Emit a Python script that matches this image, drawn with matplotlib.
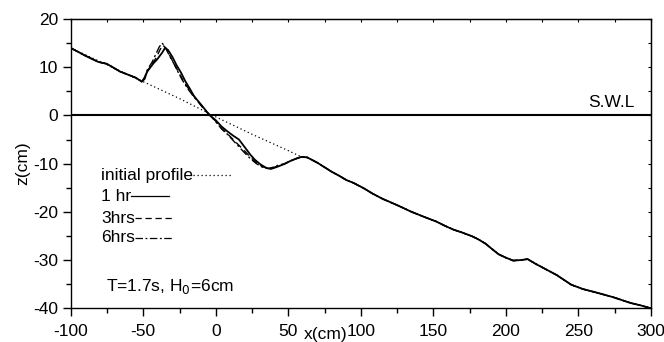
import numpy as np
import matplotlib
matplotlib.use("Agg")
import matplotlib.pyplot as plt
from matplotlib.ticker import MultipleLocator

plt.rcParams['font.family'] = ['Liberation Sans', 'DejaVu Sans']
plt.rcParams['axes.unicode_minus'] = False

FS = 12.5

# Initial (pre-test) beach profile, 1:7 slope in the surf zone
x_init = [-100, -75, -50, -25, 0, 25, 50, 59]
z_init = [14.0, 10.5, 7.0, 3.5, -0.3, -3.9, -7.3, -8.6]

# Landward part shared by all measured profiles
x_head = [-100, -90, -81, -75, -66, -60, -55, -51]
z_head = [14.0, 12.4, 11.1, 10.7, 9.1, 8.4, 7.8, 7.0]

# Seaward part shared by all measured profiles (unchanged region)
x_tail = [47, 51, 55, 59, 63, 70, 80, 85, 90, 95, 102, 108, 115, 125, 135,
          145, 152, 158, 164, 170, 177, 181, 186, 190, 195, 200, 205, 210,
          215, 220, 225, 230, 235, 240, 245, 253, 262, 274, 286, 293, 300]
z_tail = [-10.1, -9.5, -9.0, -8.6, -8.7, -9.8, -11.7, -12.5, -13.4, -14.0,
          -15.1, -16.2, -17.3, -18.6, -20.0, -21.2, -22.0, -22.9, -23.7,
          -24.3, -25.1, -25.7, -26.6, -27.6, -28.8, -29.5, -30.1, -30.0,
          -29.8, -30.7, -31.5, -32.3, -33.1, -34.1, -35.1, -36.0, -36.7,
          -37.7, -38.9, -39.4, -40.0]

# Bar region after 1 hr
x_1hr = [-49, -47.5, -43, -40.5, -37, -35, -33, -30, -27, -24, -21, -18, -15,
         -10, -6, -4, 0, 4, 8, 12, 16, 20, 24, 27, 31, 35, 38, 42]
z_1hr = [7.6, 9.0, 10.8, 11.6, 13.0, 14.0, 13.6, 12.2, 10.4, 8.9, 7.1, 5.6,
         4.0, 2.2, 0.7, 0.0, -1.0, -2.3, -3.3, -4.2, -5.0, -6.6, -8.2, -9.2,
         -10.2, -10.9, -11.1, -10.7]

# Bar region after 3 hrs
x_3hrs = [-49, -47, -44, -41, -38.5, -36.5, -34, -31, -28, -25, -22, -18, -14,
          -10, -6, -3, 0, 4, 8, 12, 16, 20, 24, 28, 32, 36, 40, 44]
z_3hrs = [7.8, 9.3, 10.6, 12.0, 13.6, 14.6, 13.8, 12.0, 10.3, 8.6, 7.0, 5.2,
          3.6, 2.0, 0.6, -0.3, -1.2, -2.7, -3.8, -5.0, -6.2, -7.4, -8.7,
          -9.8, -10.6, -11.0, -10.8, -10.3]

# Bar region after 6 hrs
x_6hrs = [-49, -47, -44, -41.5, -39, -37, -35, -32, -29, -26, -23, -19, -15,
          -10, -6, -3, 0, 4, 8, 12, 16, 20, 24, 28, 32, 36, 40, 44]
z_6hrs = [8.0, 9.6, 11.0, 12.6, 14.2, 15.0, 14.3, 12.4, 10.8, 9.0, 7.3, 5.4,
          3.8, 2.1, 0.6, -0.3, -1.3, -2.8, -3.9, -5.2, -6.5, -7.8, -9.0,
          -10.0, -10.7, -11.0, -10.7, -10.2]

legend_labels = ["initial profile", "1 hr", "3hrs", "6hrs"]


def full(xm, zm):
    return (np.concatenate([x_head, xm, x_tail]),
            np.concatenate([z_head, zm, z_tail]))


fig = plt.figure(figsize=(6.64, 3.42), dpi=100)
ax = fig.add_axes([0.1065, 0.0985, 0.8739, 0.8459])

ax.axhline(0, color='black', lw=1.5, zorder=1)

xi = np.concatenate([x_init, x_tail[4:]])
zi = np.concatenate([z_init, z_tail[4:]])
ax.plot(xi, zi, color='black', lw=0.9, ls=(0, (1, 2.2)))

styles = [('-', 1.3), ((0, (5, 3)), 1.0), ((0, (6, 2, 1.5, 2)), 1.0)]
for (xm, zm), (ls, lw) in zip([(x_1hr, z_1hr), (x_3hrs, z_3hrs), (x_6hrs, z_6hrs)], styles):
    xx, zz = full(xm, zm)
    ax.plot(xx, zz, color='black', ls=ls, lw=lw)

ax.set_xlim(-100, 300)
ax.set_ylim(-40, 20)

ax.xaxis.set_major_locator(MultipleLocator(50))
ax.xaxis.set_minor_locator(MultipleLocator(25))
ax.yaxis.set_major_locator(MultipleLocator(10))
ax.yaxis.set_minor_locator(MultipleLocator(5))
ax.tick_params(which='major', direction='out', length=6, width=1.0,
               labelsize=FS, top=False, right=False)
ax.tick_params(axis='x', which='major', pad=5)
ax.tick_params(axis='y', which='major', pad=3)
ax.tick_params(which='minor', direction='out', length=3.5, width=1.0,
               top=False, right=False)
for s in ax.spines.values():
    s.set_linewidth(1.0)

# inward ticks on top and right edges
top = ax.secondary_xaxis('top')
top.xaxis.set_major_locator(MultipleLocator(25))
top.tick_params(direction='in', length=2.5, width=0.8, labeltop=False)
right = ax.secondary_yaxis('right')
right.yaxis.set_major_locator(MultipleLocator(5))
right.tick_params(direction='in', length=2.5, width=0.8, labelright=False)

ax.set_ylabel('z(cm)', fontsize=FS, labelpad=2)
fig.text(326 / 664, 1 - 334 / 342, 'x(cm)', fontsize=FS, ha='center', va='center')

ax.text(289, 2.6, 'S.W.L', fontsize=FS, ha='right', va='center')
ax.text(-76, -35.5, 'T=1.7s, H$_0$=6cm', fontsize=FS, ha='left', va='center')

# hand-drawn legend: label text followed by a short line sample
leg_y = [-12.4, -16.8, -21.3, -25.4]
leg_ls = [(0, (1, 2.2)), '-', (0, (5, 3)), (0, (6, 2, 1.5, 2))]
for lab, y, ls in zip(legend_labels, leg_y, leg_ls):
    t = ax.text(-79, y, lab, fontsize=FS, ha='left', va='center')
    fig.canvas.draw()
    bb = t.get_window_extent().transformed(ax.transData.inverted())
    ax.plot([bb.x1, bb.x1 + 26], [y, y], color='black', ls=ls, lw=0.9)

fig.savefig('out.png', dpi=100)
